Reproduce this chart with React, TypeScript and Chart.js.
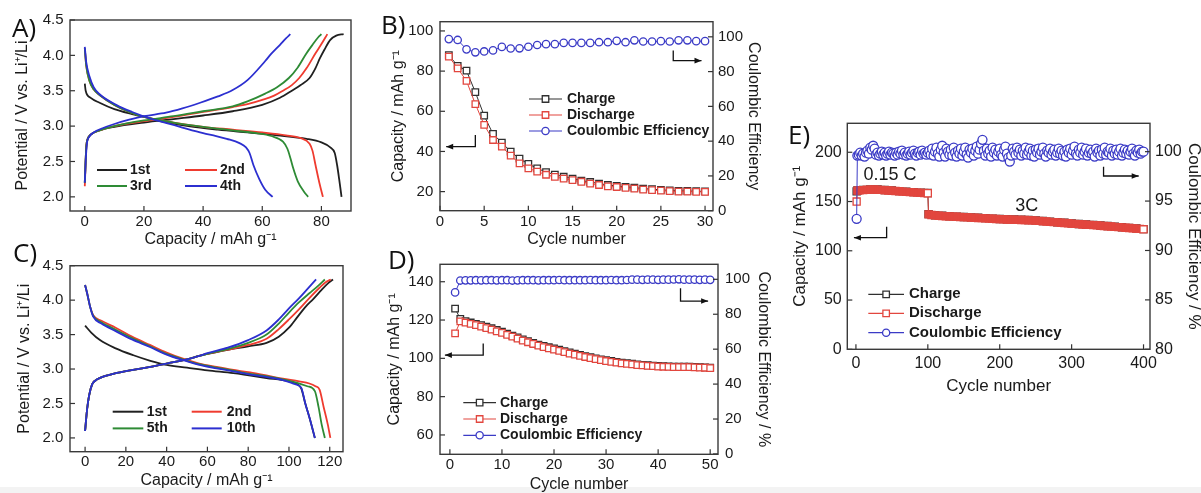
import React, { useEffect, useRef } from "react";
import { Chart, registerables } from "chart.js";

Chart.register(...registerables);

const FONT = "'Liberation Sans', Arial, Helvetica, sans-serif";
const TXT = "#1a1a1a";
const C_BLACK = "#202020";
const C_RED = "#ef3b2f";
const C_GREEN = "#2e8b35";
const C_BLUE = "#2c2fd0";
const M_BLACK = "#303030";
const M_RED = "#e2463e";
const M_BLUE = "#3b3bc6";

type P = [number, number];

// ---------------- Panel A ----------------
const aTicksX = [0, 20, 40, 60, 80];
const aTicksY = [2.0, 2.5, 3.0, 3.5, 4.0, 4.5];
const aLabels = ["1st", "2nd", "3rd", "4th"];
const aCharge1st: P[] = [[0, 2.2], [0.5, 2.7], [1, 2.82], [2, 2.88], [5, 2.94], [10, 2.99], [20, 3.05], [30, 3.1], [40, 3.15], [50, 3.21], [60, 3.3], [66, 3.4], [70, 3.5], [73, 3.58], [76, 3.68], [78, 3.82], [79.5, 3.96], [81, 4.08], [83, 4.22], [85, 4.28], [87.5, 4.3]];
const aCharge2nd: P[] = [[0, 2.15], [0.5, 2.7], [1, 2.82], [2, 2.88], [5, 2.94], [10, 3.0], [20, 3.07], [30, 3.13], [40, 3.2], [50, 3.27], [55, 3.31], [60, 3.37], [64, 3.43], [67, 3.5], [70, 3.58], [72.5, 3.68], [75, 3.82], [78, 4.03], [80, 4.16], [82, 4.3]];
const aCharge3rd: P[] = [[0, 2.2], [0.5, 2.7], [1, 2.82], [2, 2.88], [5, 2.94], [10, 3.0], [20, 3.08], [30, 3.14], [40, 3.21], [50, 3.28], [55, 3.35], [61, 3.46], [65, 3.55], [69, 3.68], [72, 3.83], [74.8, 4.02], [77, 4.15], [79, 4.26], [80, 4.3]];
const aCharge4th: P[] = [[0, 2.2], [0.3, 2.5], [0.7, 2.75], [1.5, 2.85], [3, 2.91], [6, 2.97], [10, 3.03], [15, 3.09], [20, 3.14], [27.5, 3.19], [33, 3.25], [39, 3.33], [45, 3.42], [50, 3.51], [55, 3.65], [61, 3.92], [63, 4.02], [66, 4.15], [68, 4.24], [69.5, 4.3]];
const aDis1st: P[] = [[0, 3.6], [0.3, 3.5], [2, 3.4], [5, 3.33], [10, 3.24], [16, 3.17], [22, 3.11], [28, 3.05], [35, 3.0], [45, 2.95], [55, 2.91], [65, 2.87], [75, 2.82], [80, 2.77], [83, 2.7], [84.5, 2.62], [85.3, 2.45], [86, 2.25], [86.8, 2.0]];
const aDis2nd: P[] = [[0, 4.1], [0.5, 3.85], [1.5, 3.65], [3, 3.52], [5, 3.44], [10, 3.3], [15, 3.2], [20, 3.13], [30, 3.05], [40, 2.99], [50, 2.95], [60, 2.91], [68, 2.87], [73, 2.83], [76, 2.75], [77, 2.65], [78, 2.45], [79.3, 2.2], [80.5, 2.0]];
const aDis3rd: P[] = [[0, 4.1], [0.5, 3.85], [1.5, 3.65], [3, 3.52], [5, 3.44], [10, 3.3], [15, 3.2], [20, 3.13], [30, 3.05], [40, 2.99], [50, 2.94], [58, 2.9], [63, 2.86], [67, 2.78], [68.5, 2.68], [69.5, 2.55], [70.5, 2.4], [72, 2.22], [74, 2.08], [75.5, 2.0]];
const aDis4th: P[] = [[0, 4.12], [0.5, 3.9], [1.6, 3.7], [3, 3.55], [5, 3.45], [10.6, 3.3], [16, 3.2], [22, 3.11], [28, 3.04], [33, 2.98], [40, 2.9], [44.4, 2.86], [48, 2.82], [52.3, 2.76], [54.5, 2.7], [55.7, 2.62], [57, 2.45], [59, 2.25], [61, 2.1], [63.5, 2.0]];

// ---------------- Panel C ----------------
const cTicksX = [0, 20, 40, 60, 80, 100, 120];
const cTicksY = [2.0, 2.5, 3.0, 3.5, 4.0, 4.5];
const cLabels = ["1st", "2nd", "5th", "10th"];
const cCharge1st: P[] = [[0, 2.1], [1, 2.42], [2, 2.62], [3.5, 2.78], [6, 2.85], [10, 2.9], [15, 2.94], [20, 2.97], [30, 3.02], [40, 3.08], [50, 3.14], [56, 3.19], [60, 3.22], [70, 3.28], [80, 3.33], [89, 3.38], [95, 3.47], [100, 3.6], [104, 3.75], [108, 3.9], [112, 4.02], [116, 4.15], [119, 4.24], [121.6, 4.3]];
const cCharge2nd: P[] = [[0, 2.1], [1, 2.42], [2, 2.62], [3.5, 2.78], [6, 2.85], [10, 2.9], [15, 2.94], [20, 2.97], [30, 3.02], [40, 3.08], [50, 3.14], [56, 3.19], [60, 3.22], [70, 3.28], [80, 3.35], [89, 3.44], [95, 3.58], [100, 3.72], [105, 3.87], [110, 4.03], [115, 4.18], [118, 4.26], [120.5, 4.3]];
const cCharge5th: P[] = [[0, 2.1], [1, 2.42], [2, 2.62], [3.5, 2.78], [6, 2.85], [10, 2.9], [15, 2.94], [20, 2.97], [30, 3.02], [40, 3.08], [50, 3.14], [56, 3.19], [60, 3.22], [70, 3.29], [80, 3.38], [89, 3.5], [95, 3.66], [100, 3.82], [105, 3.97], [110, 4.1], [114, 4.2], [117.6, 4.3]];
const cCharge10th: P[] = [[0, 2.1], [1, 2.42], [2, 2.62], [3.5, 2.78], [6, 2.85], [10, 2.9], [15, 2.94], [20, 2.97], [30, 3.02], [40, 3.08], [50, 3.14], [56, 3.19], [60, 3.23], [70, 3.31], [80, 3.42], [89, 3.56], [95, 3.72], [100, 3.88], [105, 4.03], [109, 4.16], [113.3, 4.3]];
const cDis1st: P[] = [[0, 3.63], [3, 3.53], [7.3, 3.42], [15, 3.3], [23.7, 3.2], [32, 3.12], [40, 3.06], [50, 3.02], [60, 2.98], [72.7, 2.94], [89, 2.87], [100, 2.82], [104, 2.78], [106, 2.72], [108, 2.5], [110, 2.3], [112.7, 2.0]];
const cDis2nd: P[] = [[0, 4.22], [1, 4.1], [2.5, 3.9], [4, 3.78], [8, 3.7], [15, 3.6], [23, 3.47], [31.8, 3.35], [40, 3.24], [48, 3.15], [56, 3.08], [64.5, 3.03], [72, 2.99], [81, 2.95], [90, 2.9], [97, 2.86], [105, 2.82], [110, 2.79], [113, 2.75], [115, 2.7], [117, 2.45], [119, 2.2], [120.3, 2.0]];
const cDis5th: P[] = [[0, 4.22], [1, 4.1], [2.5, 3.9], [4, 3.77], [8, 3.68], [15, 3.57], [23, 3.45], [31.8, 3.33], [40, 3.22], [48, 3.14], [56, 3.07], [64.5, 3.02], [72, 2.98], [81, 2.93], [90, 2.89], [97, 2.85], [104, 2.8], [109, 2.75], [112.7, 2.68], [114.5, 2.45], [116, 2.2], [117.6, 2.0]];
const cDis10th: P[] = [[0, 4.22], [1, 4.1], [2.5, 3.9], [4, 3.76], [8, 3.66], [15, 3.55], [23, 3.43], [31.8, 3.32], [40, 3.21], [48, 3.13], [56, 3.06], [64.5, 3.01], [72, 2.97], [81, 2.92], [90, 2.88], [97, 2.84], [103, 2.78], [106, 2.73], [108, 2.5], [110.5, 2.25], [112.7, 2.0]];

// ---------------- Panel B ----------------
const bTicksX = [0, 5, 10, 15, 20, 25, 30];
const bTicksY = [20, 40, 60, 80, 100];
const bTicksY2 = [0, 20, 40, 60, 80, 100];
const seriesNames = ["Charge", "Discharge", "Coulombic Efficiency"];
const cyclesB = [1, 2, 3, 4, 5, 6, 7, 8, 9, 10, 11, 12, 13, 14, 15, 16, 17, 18, 19, 20, 21, 22, 23, 24, 25, 26, 27, 28, 29, 30];
const chargeB = [88.0, 82.6, 80.2, 69.5, 57.8, 48.7, 44.4, 39.9, 36.4, 33.8, 31.6, 29.7, 28.5, 27.4, 26.5, 25.5, 24.8, 24.0, 23.3, 22.8, 22.4, 22.0, 21.5, 21.2, 20.9, 20.6, 20.4, 20.3, 20.2, 20.1];
const dischargeB = [87.2, 81.4, 75.1, 63.6, 53.2, 45.7, 42.4, 37.9, 34.1, 31.6, 30.0, 28.4, 27.3, 26.5, 25.7, 24.9, 24.0, 23.3, 22.6, 22.3, 21.9, 21.5, 21.0, 20.7, 20.5, 20.2, 20.0, 20.0, 19.9, 19.9];
const ceB = [98.7, 98.2, 92.8, 91.1, 91.6, 92.2, 94.2, 93.3, 93.4, 94.3, 95.3, 95.8, 95.8, 96.5, 96.5, 96.5, 96.5, 96.9, 96.9, 97.7, 96.9, 98.0, 97.3, 97.3, 97.5, 97.3, 98.0, 98.0, 97.5, 97.5];

// ---------------- Panel D ----------------
const dTicksX = [0, 10, 20, 30, 40, 50];
const dTicksY = [60, 80, 100, 120, 140];
const dTicksY2 = [0, 20, 40, 60, 80, 100];
const cyclesD = [1, 2, 3, 4, 5, 6, 7, 8, 9, 10, 11, 12, 13, 14, 15, 16, 17, 18, 19, 20, 21, 22, 23, 24, 25, 26, 27, 28, 29, 30, 31, 32, 33, 34, 35, 36, 37, 38, 39, 40, 41, 42, 43, 44, 45, 46, 47, 48, 49, 50];
const chargeD = [126.0, 120.6, 119.4, 118.7, 118.0, 117.3, 116.5, 115.7, 114.8, 113.9, 112.9, 111.9, 110.9, 109.9, 109.0, 108.1, 107.2, 106.5, 105.8, 105.2, 104.5, 103.8, 103.1, 102.4, 101.8, 101.2, 100.6, 100.0, 99.5, 99.0, 98.6, 98.2, 97.8, 97.5, 97.2, 96.9, 96.6, 96.4, 96.2, 96.0, 95.9, 95.8, 95.7, 95.6, 95.6, 95.6, 95.5, 95.4, 95.3, 95.1];
const dischargeD = [113.0, 119.3, 118.6, 118.0, 117.3, 116.6, 115.8, 115.0, 114.1, 113.3, 112.3, 111.3, 110.3, 109.3, 108.4, 107.5, 106.6, 105.9, 105.2, 104.6, 103.9, 103.2, 102.5, 101.9, 101.3, 100.7, 100.1, 99.6, 99.1, 98.6, 98.2, 97.8, 97.4, 97.1, 96.8, 96.5, 96.3, 96.1, 95.9, 95.7, 95.6, 95.5, 95.4, 95.4, 95.4, 95.4, 95.3, 95.2, 95.1, 94.9];
const ceD = [92.5, 99.3, 99.4, 99.4, 99.5, 99.4, 99.5, 99.5, 99.4, 99.5, 99.5, 99.3, 99.4, 99.5, 99.5, 99.5, 99.4, 99.5, 99.5, 99.5, 99.6, 99.5, 99.5, 99.5, 99.5, 99.5, 99.6, 99.5, 99.5, 99.5, 99.6, 99.5, 99.5, 99.6, 99.8, 99.8, 99.7, 99.8, 99.8, 99.7, 99.8, 99.8, 99.9, 100.0, 99.8, 99.8, 99.8, 99.7, 99.8, 99.7];

// ---------------- Panel E ----------------
const eTicksX = [0, 100, 200, 300, 400];
const eTicksY = [0, 50, 100, 150, 200];
const eTicksY2 = [80, 85, 90, 95, 100];
const eRateLabels = ["0.15 C", "3C"];
const dischargeE: P[] = [[1, 150.0], [2, 161.0], [5, 161.3], [10, 161.6], [15, 161.9], [20, 162.1], [25, 162.2], [30, 162.0], [35, 161.8], [40, 161.5], [45, 161.2], [50, 161.0], [55, 160.7], [60, 160.4], [65, 160.1], [70, 159.8], [75, 159.5], [80, 159.3], [85, 159.0], [90, 158.8], [95, 158.6], [100, 158.4],
  [101, 137.0], [105, 136.3], [110, 135.9], [115, 135.6], [120, 135.3], [125, 135.1], [130, 134.9], [135, 134.7], [140, 134.5], [145, 134.3], [150, 134.1], [155, 133.9], [160, 133.7], [165, 133.5], [170, 133.3], [175, 133.1], [180, 132.9], [185, 132.7], [190, 132.5], [195, 132.3], [200, 132.1], [205, 131.9], [210, 131.8], [215, 131.6], [220, 131.5], [225, 131.4], [230, 131.3], [235, 131.2], [240, 131.0], [245, 130.8], [250, 130.6], [255, 130.3], [260, 130.0], [265, 129.7], [270, 129.4], [275, 129.1], [280, 128.8], [285, 128.5], [290, 128.2], [295, 127.9], [300, 127.6], [305, 127.3], [310, 127.0], [315, 126.7], [320, 126.5], [325, 126.3], [330, 126.1], [335, 125.8], [340, 125.5], [345, 125.2], [350, 124.9], [355, 124.6], [360, 124.3], [365, 124.0], [370, 123.7], [375, 123.4], [380, 123.1], [385, 122.8], [390, 122.5], [395, 122.2], [400, 121.8]];
const chargeE: P[] = [[1, 160.3], [2, 161.2], [10, 161.8], [20, 162.3], [30, 162.2], [40, 161.7], [50, 161.2], [60, 160.6], [70, 160.0], [80, 159.5], [90, 159.0], [100, 158.6],
  [101, 137.2], [110, 136.1], [120, 135.5], [130, 135.1], [140, 134.7], [150, 134.3], [160, 133.9], [170, 133.5], [180, 133.1], [190, 132.7], [200, 132.3], [210, 132.0], [220, 131.7], [230, 131.5], [240, 131.2], [250, 130.8], [260, 130.2], [270, 129.6], [280, 129.0], [290, 128.4], [300, 127.8], [310, 127.2], [320, 126.7], [330, 126.3], [340, 125.7], [350, 125.1], [360, 124.5], [370, 123.9], [380, 123.3], [390, 122.7], [400, 122.0]];
const ceE: P[] = [[1, 93.2],
  [2, 99.6], [4, 99.7], [6, 99.9], [8, 99.6], [10, 99.8], [12, 99.5], [14, 99.9], [16, 100.1], [18, 99.8], [20, 100.4],
  [22, 100.2], [24, 100.6], [26, 100.3], [28, 99.7], [30, 99.9], [32, 99.6], [34, 99.8], [36, 100.0], [38, 99.7], [40, 99.9],
  [42, 99.6], [44, 99.8], [46, 100.0], [48, 99.7], [50, 99.9], [52, 99.8], [54, 99.6], [56, 99.9], [58, 99.7], [60, 100.0],
  [62, 99.8], [64, 100.1], [66, 99.7], [68, 99.9], [70, 99.6], [72, 99.8], [74, 100.0], [76, 99.7], [78, 99.9], [80, 100.1],
  [82, 99.8], [84, 99.6], [86, 99.9], [88, 100.0], [90, 99.7], [92, 100.1], [94, 99.8], [96, 99.9], [98, 99.7], [100, 99.9],
  [102, 100.1], [104, 99.7], [106, 100.3], [108, 99.6], [110, 100.0], [112, 100.4], [114, 99.8], [116, 99.5], [118, 100.2], [120, 100.6],
  [122, 99.9], [124, 99.5], [126, 100.3], [128, 100.0], [130, 99.7], [132, 100.2], [134, 99.6], [136, 100.4], [138, 99.9], [140, 99.5],
  [142, 100.1], [144, 99.8], [146, 100.3], [148, 99.6], [150, 100.0], [152, 100.4], [154, 99.7], [156, 99.4], [158, 100.2], [160, 99.9],
  [162, 100.3], [164, 99.6], [166, 100.1], [168, 100.5], [170, 99.8], [172, 100.2], [174, 100.8], [176, 101.2], [178, 100.1], [180, 99.6],
  [182, 100.3], [184, 99.8], [186, 100.1], [188, 99.5], [190, 100.4], [192, 99.9], [194, 100.2], [196, 99.6], [198, 100.0], [200, 100.3],
  [202, 99.7], [204, 99.5], [206, 100.2], [208, 100.5], [210, 99.8], [212, 99.4], [214, 99.0], [216, 99.6], [218, 100.3], [220, 100.0],
  [222, 99.7], [224, 100.4], [226, 99.9], [228, 100.2], [230, 99.6], [232, 100.1], [234, 99.8], [236, 100.4], [238, 99.7], [240, 100.0],
  [242, 100.3], [244, 99.6], [246, 100.1], [248, 99.5], [250, 100.2], [252, 99.9], [254, 100.3], [256, 99.7], [258, 100.0], [260, 100.4],
  [262, 99.8], [264, 99.5], [266, 100.1], [268, 99.9], [270, 100.3], [272, 99.7], [274, 100.0], [276, 100.2], [278, 99.6], [280, 99.9],
  [282, 100.3], [284, 99.8], [286, 100.1], [288, 99.6], [290, 100.0], [292, 99.5], [294, 100.2], [296, 99.9], [298, 100.3], [300, 99.7],
  [302, 100.1], [304, 100.5], [306, 99.8], [308, 99.6], [310, 100.2], [312, 99.9], [314, 100.4], [316, 99.7], [318, 100.0], [320, 100.3],
  [322, 99.6], [324, 99.9], [326, 100.2], [328, 99.8], [330, 100.0], [332, 99.5], [334, 100.3], [336, 99.9], [338, 100.1], [340, 99.6],
  [342, 100.2], [344, 99.8], [346, 100.4], [348, 99.7], [350, 100.0], [352, 99.9], [354, 100.3], [356, 99.6], [358, 100.1], [360, 99.8],
  [362, 100.2], [364, 99.7], [366, 100.0], [368, 100.3], [370, 99.6], [372, 99.9], [374, 100.2], [376, 99.8], [378, 100.1], [380, 99.7],
  [382, 100.0], [384, 100.3], [386, 99.8], [388, 99.6], [390, 100.1], [392, 99.9], [394, 100.2], [396, 99.8], [398, 100.0], [400, 100.0]];

// ---------------- helpers ----------------
const fmt1 = (v: number) => v.toFixed(1);
const fmt0 = (v: number) => String(v);

function axis(o: any) {
  return {
    type: "linear",
    position: o.pos,
    min: o.min,
    max: o.max,
    afterBuildTicks: (s: any) => {
      s.ticks = o.ticks.map((v: number) => ({ value: v }));
    },
    afterFit: (s: any) => {
      if (o.pos === "bottom") s.height = o.size;
      else s.width = o.size;
    },
    grid: { display: false, drawTicks: false },
    border: { display: false },
    ticks: {
      font: { family: FONT, size: o.tickFont },
      color: TXT,
      padding: o.labelPad,
      maxRotation: 0,
      autoSkip: false,
      callback: (v: number) => (o.fmt || fmt0)(v),
    },
    title: {
      display: true,
      text: o.title,
      font: { family: FONT, size: o.titleFont },
      color: TXT,
      padding: o.pos === "bottom" ? { top: 0, bottom: o.titlePad } : { top: o.titlePad, bottom: 0 },
    },
  };
}

const curve = (pts: P[], color: string, order: number) => ({
  data: pts.map(([x, y]) => ({ x, y })),
  showLine: true,
  borderColor: color,
  borderWidth: 1.8,
  pointRadius: 0,
  pointHoverRadius: 0,
  cubicInterpolationMode: "monotone",
  fill: false,
  order,
});

const series = (pts: P[], color: string, style: string, radius: number, yAxisID: string, order: number, bg: any = "#ffffff") => ({
  data: pts.map(([x, y]) => ({ x, y })),
  showLine: true,
  borderColor: color,
  borderWidth: 1,
  pointStyle: style,
  pointRadius: radius,
  pointHoverRadius: radius,
  pointBorderColor: color,
  pointBackgroundColor: bg,
  pointBorderWidth: 1.3,
  yAxisID,
  order,
  tension: 0,
});

const zip = (xs: number[], ys: number[]): P[] => xs.map((x, i) => [x, ys[i]]);

function drawMarker(ctx: CanvasRenderingContext2D, style: string, x: number, y: number, color: string, r: number) {
  ctx.save();
  ctx.fillStyle = "#ffffff";
  ctx.strokeStyle = color;
  ctx.lineWidth = 1.3;
  ctx.beginPath();
  if (style === "rect") {
    const h = r * Math.SQRT1_2;
    ctx.rect(x - h, y - h, 2 * h, 2 * h);
  } else {
    ctx.arc(x, y, r, 0, Math.PI * 2);
  }
  ctx.fill();
  ctx.stroke();
  ctx.restore();
}

function deco(extra: any) {
  return {
    id: "deco",
    afterDraw(chart: any) {
      const { ctx, chartArea: ca } = chart;
      ctx.save();
      ctx.strokeStyle = "#333";
      ctx.lineWidth = 1.2;
      for (const id of Object.keys(chart.scales)) {
        const s = chart.scales[id];
        for (const t of s.ticks) {
          const p = s.getPixelForValue(t.value);
          ctx.beginPath();
          if (s.position === "bottom") {
            ctx.moveTo(p, ca.bottom);
            ctx.lineTo(p, ca.bottom - 5);
          } else if (s.position === "left") {
            ctx.moveTo(ca.left, p);
            ctx.lineTo(ca.left + 5, p);
          } else {
            ctx.moveTo(ca.right, p);
            ctx.lineTo(ca.right - 5, p);
          }
          ctx.stroke();
        }
      }
      ctx.strokeStyle = "#3a3a3a";
      ctx.lineWidth = 1.4;
      ctx.strokeRect(ca.left, ca.top, ca.right - ca.left, ca.bottom - ca.top);

      for (const a of extra.arrows || []) {
        const xs = chart.scales.x;
        const ys = chart.scales[a.axis];
        const px = a.pts.map(([x, y]: P) => [xs.getPixelForValue(x), ys.getPixelForValue(y)]);
        ctx.strokeStyle = "#111";
        ctx.fillStyle = "#111";
        ctx.lineWidth = 1.3;
        ctx.beginPath();
        ctx.moveTo(px[0][0], px[0][1]);
        for (let i = 1; i < px.length; i++) ctx.lineTo(px[i][0], px[i][1]);
        ctx.stroke();
        const [x2, y2] = px[px.length - 1];
        const [x1, y1] = px[px.length - 2];
        const ang = Math.atan2(y2 - y1, x2 - x1);
        const L = 7, W = 2.8;
        const c = Math.cos(ang), s = Math.sin(ang);
        ctx.beginPath();
        ctx.moveTo(x2, y2);
        ctx.lineTo(x2 - L * c + W * s, y2 - L * s - W * c);
        ctx.lineTo(x2 - L * c - W * s, y2 - L * s + W * c);
        ctx.closePath();
        ctx.fill();
      }

      for (const t of extra.texts || []) {
        const x = chart.scales.x.getPixelForValue(t.x);
        const y = chart.scales[t.axis].getPixelForValue(t.y);
        ctx.fillStyle = TXT;
        ctx.font = `${t.size}px ${FONT}`;
        ctx.textAlign = "center";
        ctx.textBaseline = "middle";
        ctx.fillText(t.text, x, y);
      }

      if (extra.legend) {
        const lg = extra.legend;
        for (const it of lg.items) {
          const y = ca.top + it.y;
          ctx.strokeStyle = it.color;
          ctx.lineWidth = it.marker ? 1.2 : 2;
          ctx.beginPath();
          ctx.moveTo(ca.left + it.x0, y);
          ctx.lineTo(ca.left + it.x1, y);
          ctx.stroke();
          if (it.marker) drawMarker(ctx, it.marker, ca.left + (it.x0 + it.x1) / 2, y, it.color, it.marker === "rect" ? 4.6 : 3.6);
          ctx.fillStyle = TXT;
          ctx.font = `bold ${lg.size}px ${FONT}`;
          ctx.textAlign = "left";
          ctx.textBaseline = "middle";
          ctx.fillText(it.label, ca.left + it.tx, y);
        }
      }
      ctx.restore();
    },
  };
}

function makeConfig(datasets: any[], scales: any, padding: any, extra: any) {
  return {
    type: "scatter",
    data: { datasets },
    options: {
      animation: false,
      responsive: false,
      maintainAspectRatio: false,
      events: [],
      layout: { padding },
      plugins: { legend: { display: false }, tooltip: { enabled: false } },
      scales,
    },
    plugins: [deco(extra)],
  };
}

const CAP_TITLE = "Capacity / mAh g\u207B\u00B9";
const POT_TITLE = "Potential / V vs. Li\u207A/Li";

function configA() {
  const colors = [C_BLACK, C_RED, C_GREEN, C_BLUE];
  const charges = [aCharge1st, aCharge2nd, aCharge3rd, aCharge4th];
  const dis = [aDis1st, aDis2nd, aDis3rd, aDis4th];
  const ds: any[] = [];
  for (let i = 0; i < 4; i++) {
    ds.push(curve(charges[i], colors[i], 10 - 2 * i));
    ds.push(curve(dis[i], colors[i], 9 - 2 * i));
  }
  const legend = {
    size: 14,
    items: aLabels.map((label, i) => ({
      label, color: colors[i],
      x0: i % 2 === 0 ? 27 : 115, x1: i % 2 === 0 ? 57 : 147, tx: i % 2 === 0 ? 60 : 150,
      y: i < 2 ? 150 : 166,
    })),
  };
  return makeConfig(ds, {
    x: axis({ pos: "bottom", min: -5, max: 90, ticks: aTicksX, size: 41, labelPad: 1.7, title: CAP_TITLE, titlePad: 2.4, tickFont: 15, titleFont: 16 }),
    y: axis({ pos: "left", min: 1.8, max: 4.5, ticks: aTicksY, size: 70, labelPad: 6.5, title: POT_TITLE, titlePad: 13.4, tickFont: 15, titleFont: 16, fmt: fmt1 }),
  }, { left: 0, top: 20, right: 29, bottom: 0 }, { legend });
}

function configC() {
  const colors = [C_BLACK, C_RED, C_GREEN, C_BLUE];
  const charges = [cCharge1st, cCharge2nd, cCharge5th, cCharge10th];
  const dis = [cDis1st, cDis2nd, cDis5th, cDis10th];
  const ds: any[] = [];
  for (let i = 0; i < 4; i++) {
    ds.push(curve(charges[i], colors[i], 10 - 2 * i));
    ds.push(curve(dis[i], colors[i], 9 - 2 * i));
  }
  const legend = {
    size: 14,
    items: cLabels.map((label, i) => ({
      label, color: colors[i],
      x0: i % 2 === 0 ? 42.7 : 121.7, x1: i % 2 === 0 ? 73.3 : 151.7, tx: i % 2 === 0 ? 76.7 : 156.7,
      y: i < 2 ? 146 : 162.7,
    })),
  };
  return makeConfig(ds, {
    x: axis({ pos: "bottom", min: -7.4, max: 126.5, ticks: cTicksX, size: 41.3, labelPad: 1.6, title: CAP_TITLE, titlePad: 2.4, tickFont: 15, titleFont: 16 }),
    y: axis({ pos: "left", min: 1.8, max: 4.5, ticks: cTicksY, size: 70, labelPad: 6.7, title: POT_TITLE, titlePad: 15.4, tickFont: 15, titleFont: 16, fmt: fmt1 }),
  }, { left: 0, top: 12.3, right: 37, bottom: 0 }, { legend });
}

function legend3(x0: number, x1: number, tx: number, rows: number[], size: number) {
  const colors = [M_BLACK, M_RED, M_BLUE];
  const markers = ["rect", "rect", "circle"];
  return {
    size,
    items: seriesNames.map((label, i) => ({ label, color: colors[i], marker: markers[i], x0, x1, tx, y: rows[i] })),
  };
}

function configB() {
  const ds = [
    series(zip(cyclesB, ceB), M_BLUE, "circle", 3.7, "y2", 0),
    series(zip(cyclesB, dischargeB), M_RED, "rect", 4.6, "y", 1),
    series(zip(cyclesB, chargeB), M_BLACK, "rect", 4.6, "y", 2),
  ];
  return makeConfig(ds, {
    x: axis({ pos: "bottom", min: 0, max: 30.9, ticks: bTicksX, size: 39.3, labelPad: 2, title: "Cycle number", titlePad: 1.1, tickFont: 15, titleFont: 16 }),
    y: axis({ pos: "left", min: 10.5, max: 104.6, ticks: bTicksY, size: 70, labelPad: 6.7, title: CAP_TITLE, titlePad: 18.7, tickFont: 15, titleFont: 16 }),
    y2: axis({ pos: "right", min: 0, max: 108.7, ticks: bTicksY2, size: 57, labelPad: 5, title: "Coulombic Efficiency", titlePad: 7, tickFont: 15, titleFont: 16 }),
  }, { left: 0, top: 21.7, right: 0, bottom: 0 }, {
    legend: legend3(89, 122, 127, [77.3, 93.3, 109.3], 14),
    arrows: [
      { axis: "y", pts: [[4, 48.2], [4, 42.4], [0.7, 42.4]] },
      { axis: "y", pts: [[26.4, 90.2], [26.4, 85.2], [29.6, 85.2]] },
    ],
  });
}

function configD() {
  const ds = [
    series(zip(cyclesD, ceD), M_BLUE, "circle", 3.7, "y2", 0),
    series(zip(cyclesD, dischargeD), M_RED, "rect", 4.6, "y", 1),
    series(zip(cyclesD, chargeD), M_BLACK, "rect", 4.6, "y", 2),
  ];
  return makeConfig(ds, {
    x: axis({ pos: "bottom", min: -1.9, max: 51.5, ticks: dTicksX, size: 42.7, labelPad: 1.7, title: "Cycle number", titlePad: 2.4, tickFont: 15, titleFont: 16 }),
    y: axis({ pos: "left", min: 49.9, max: 149.1, ticks: dTicksY, size: 70, labelPad: 6.7, title: CAP_TITLE, titlePad: 15.4, tickFont: 15, titleFont: 16 }),
    y2: axis({ pos: "right", min: -0.2, max: 108.6, ticks: dTicksY2, size: 62, labelPad: 7, title: "Coulombic Efficiency / %", titlePad: 7.1, tickFont: 15, titleFont: 16 }),
  }, { left: 0, top: 19.3, right: 0, bottom: 0 }, {
    legend: legend3(23.3, 56, 60, [138.4, 154.7, 171], 14),
    arrows: [
      { axis: "y", pts: [[6.4, 107.8], [6.4, 101.7], [-0.96, 101.7]] },
      { axis: "y", pts: [[44.3, 136.6], [44.3, 129.9], [49.6, 129.9]] },
    ],
  });
}

function configE() {
  const hollowEnds = (pts: P[]) => pts.map(([c]) => (c === 1 || c === 100 || c === 400 ? "#ffffff" : M_RED));
  const ds = [
    series(ceE, M_BLUE, "circle", 4.5, "y2", 0),
    series(dischargeE, M_RED, "rect", 5, "y", 1, hollowEnds(dischargeE)),
    series(chargeE, M_BLACK, "rect", 5, "y", 2),
  ];
  return makeConfig(ds, {
    x: axis({ pos: "bottom", min: -12, max: 409, ticks: eTicksX, size: 50.7, labelPad: 4.4, title: "Cycle number", titlePad: 3.1, tickFont: 16, titleFont: 17 }),
    y: axis({ pos: "left", min: 0, max: 229.4, ticks: eTicksY, size: 87.3, labelPad: 5.6, title: CAP_TITLE, titlePad: 29.8, tickFont: 16, titleFont: 17 }),
    y2: axis({ pos: "right", min: 80, max: 102.87, ticks: eTicksY2, size: 70, labelPad: 5, title: "Coulombic Efficiency / %", titlePad: 16.5, tickFont: 16, titleFont: 17 }),
  }, { left: 0, top: 23.3, right: 0, bottom: 0 }, {
    legend: legend3(21, 56.7, 61.7, [171, 190, 209.4], 15),
    arrows: [
      { axis: "y", pts: [[42.7, 124.5], [42.7, 113.3], [-2.8, 113.3]] },
      { axis: "y", pts: [[344.4, 185.4], [344.4, 175.9], [393.3, 175.9]] },
    ],
    texts: [
      { text: eRateLabels[0], x: 47.4, y: 177, axis: "y", size: 18 },
      { text: eRateLabels[1], x: 237.7, y: 145.5, axis: "y", size: 18 },
    ],
  });
}

function ChartBox(props: { left: number; top: number; width: number; height: number; build: () => any }) {
  const ref = useRef<HTMLCanvasElement>(null);
  useEffect(() => {
    const chart = new Chart(ref.current as HTMLCanvasElement, props.build() as any);
    return () => chart.destroy();
  }, []);
  return (
    <canvas
      ref={ref}
      width={props.width}
      height={props.height}
      style={{ position: "absolute", left: props.left, top: props.top, width: props.width, height: props.height }}
    />
  );
}

const panelLabel = (left: number, top: number): React.CSSProperties => ({
  position: "absolute",
  left,
  top,
  fontFamily: "'Open Sans', 'Liberation Sans', sans-serif",
  fontSize: 26,
  lineHeight: "26px",
  color: "#111",
  margin: 0,
});

export default function App() {
  return (
    <div style={{ position: "fixed", left: 0, top: 0, width: 1201, height: 493, overflow: "hidden", background: "#ffffff" }}>
      <div style={{ position: "absolute", left: 0, top: 487, width: 1201, height: 6, background: "#f3f3f3" }} />
      <ChartBox left={0} top={0} width={380} height={252} build={configA} />
      <ChartBox left={0} top={250} width={380} height={243} build={configC} />
      <ChartBox left={370} top={0} width={400} height={250} build={configB} />
      <ChartBox left={370} top={245} width={410} height={252} build={configD} />
      <ChartBox left={760} top={100} width={460} height={300} build={configE} />
      <div style={panelLabel(12, 13.8)}>A)</div>
      <div style={panelLabel(381, 10.5)}>B)</div>
      <div style={panelLabel(13, 238.5)}>C)</div>
      <div style={panelLabel(388, 245.5)}>D)</div>
      <div style={panelLabel(788, 120.5)}>E)</div>
    </div>
  );
}
